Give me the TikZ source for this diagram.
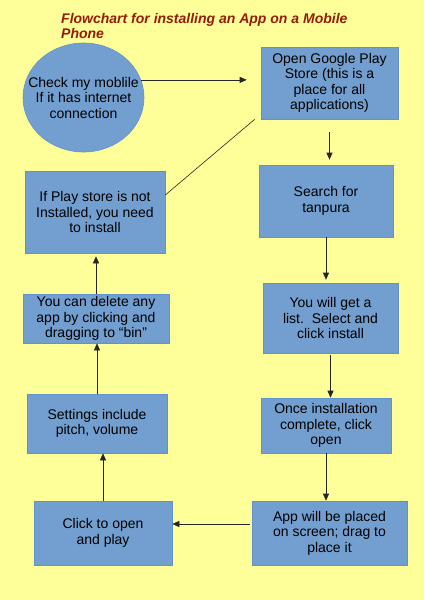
\documentclass[tikz,border=0pt]{standalone}
\usepackage{fontspec}
\setmainfont{Liberation Sans}
\usetikzlibrary{shapes.geometric,arrows.meta}
\definecolor{bgyellow}{RGB}{255,255,153}
\definecolor{boxblue}{RGB}{114,159,207}
\definecolor{boxedge}{RGB}{98,146,204}
\definecolor{titlered}{RGB}{150,28,10}

\begin{document}
\begin{tikzpicture}[x=1pt,y=-1pt,
  box/.style={fill=boxblue,draw=boxedge,line width=0.6pt,align=center,inner sep=0pt,
    font=\fontsize{14}{15.5}\selectfont},
  line/.style={draw=black!85,line width=0.6pt},
  arr/.style={line,-{Triangle[length=7pt,width=6pt]}}]
\fill [bgyellow] (0,0) rectangle (424,600);
\useasboundingbox (0,0) rectangle (424,600);
\node (title) at (61,13) [anchor=north west,align=left,inner sep=0pt,text=titlered,
  font=\fontsize{14}{15}\selectfont\bfseries\itshape] {Flowchart for installing an App on a Mobile\\Phone};
% left column, top to bottom
  \node (check) at (83.5,97.5) [ellipse,fill=boxblue,draw=boxedge,line width=0.6pt,minimum width=121pt,minimum height=109pt] {};
  \node (checktext) at (check.center) [align=center,inner sep=0pt,font=\fontsize{14}{15.5}\selectfont] {Check my moblile\\If it has internet\\connection};
  \node (ifstore) at (95,212) [box,minimum width=140pt,minimum height=82pt] {If Play store is not\\Installed, you need\\to install};
  \node (delete) at (96,318.5) [box,minimum width=146pt,minimum height=49pt] {You can delete any\\app by clicking and\\dragging to “bin”};
  \node (settings) at (97,423.5) [box,minimum width=140pt,minimum height=59pt] {Settings include\\pitch, volume};
  \node (click) at (103,533) [box,minimum width=138pt,minimum height=64pt] {Click to open\\and play};
% right column, top to bottom
  \node (open) at (329.5,83) [box,minimum width=137pt,minimum height=72pt] {Open Google Play\\Store (this is a\\place for all\\applications)};
  \node (search) at (326,201) [box,minimum width=134pt,minimum height=72pt] {Search for\\tanpura};
  \node (list) at (330.5,318) [box,minimum width=135pt,minimum height=70pt] {You will get a\\list.\ \ Select and\\click install};
  \node (once) at (326,425.5) [box,minimum width=130pt,minimum height=55pt] {Once installation\\complete, click\\open};
  \node (app) at (329.5,533) [box,minimum width=155pt,minimum height=64pt] {App will be placed\\on screen; drag to\\place it};
% connectors
  \draw [arr,shorten >=14pt] (check.17) to (check.17 -| open.west);
  \draw [line] ([xshift=-6pt]open.south west) to ([yshift=17pt]ifstore.east);
  \draw [arr,shorten <=13pt,shorten >=5pt] (open.south) to (open.south |- search.north);
  \draw [arr,shorten >=3pt] (search.south) to (search.south |- list.north);
  \draw [arr,shorten <=2pt] (list.south) to (list.south |- once.north);
  \draw [arr] (once.south) to (once.south |- app.north);
  \draw [arr,shorten <=2pt] ([yshift=9pt]app.west) to ([yshift=9pt]app.west -| click.east);
  \draw [arr] (click.north) to (click.north |- settings.south);
  \draw [arr] (settings.north) to (settings.north |- delete.south);
  \draw [arr,shorten >=3pt] (delete.north) to (delete.north |- ifstore.south);
\end{tikzpicture}
\end{document}
